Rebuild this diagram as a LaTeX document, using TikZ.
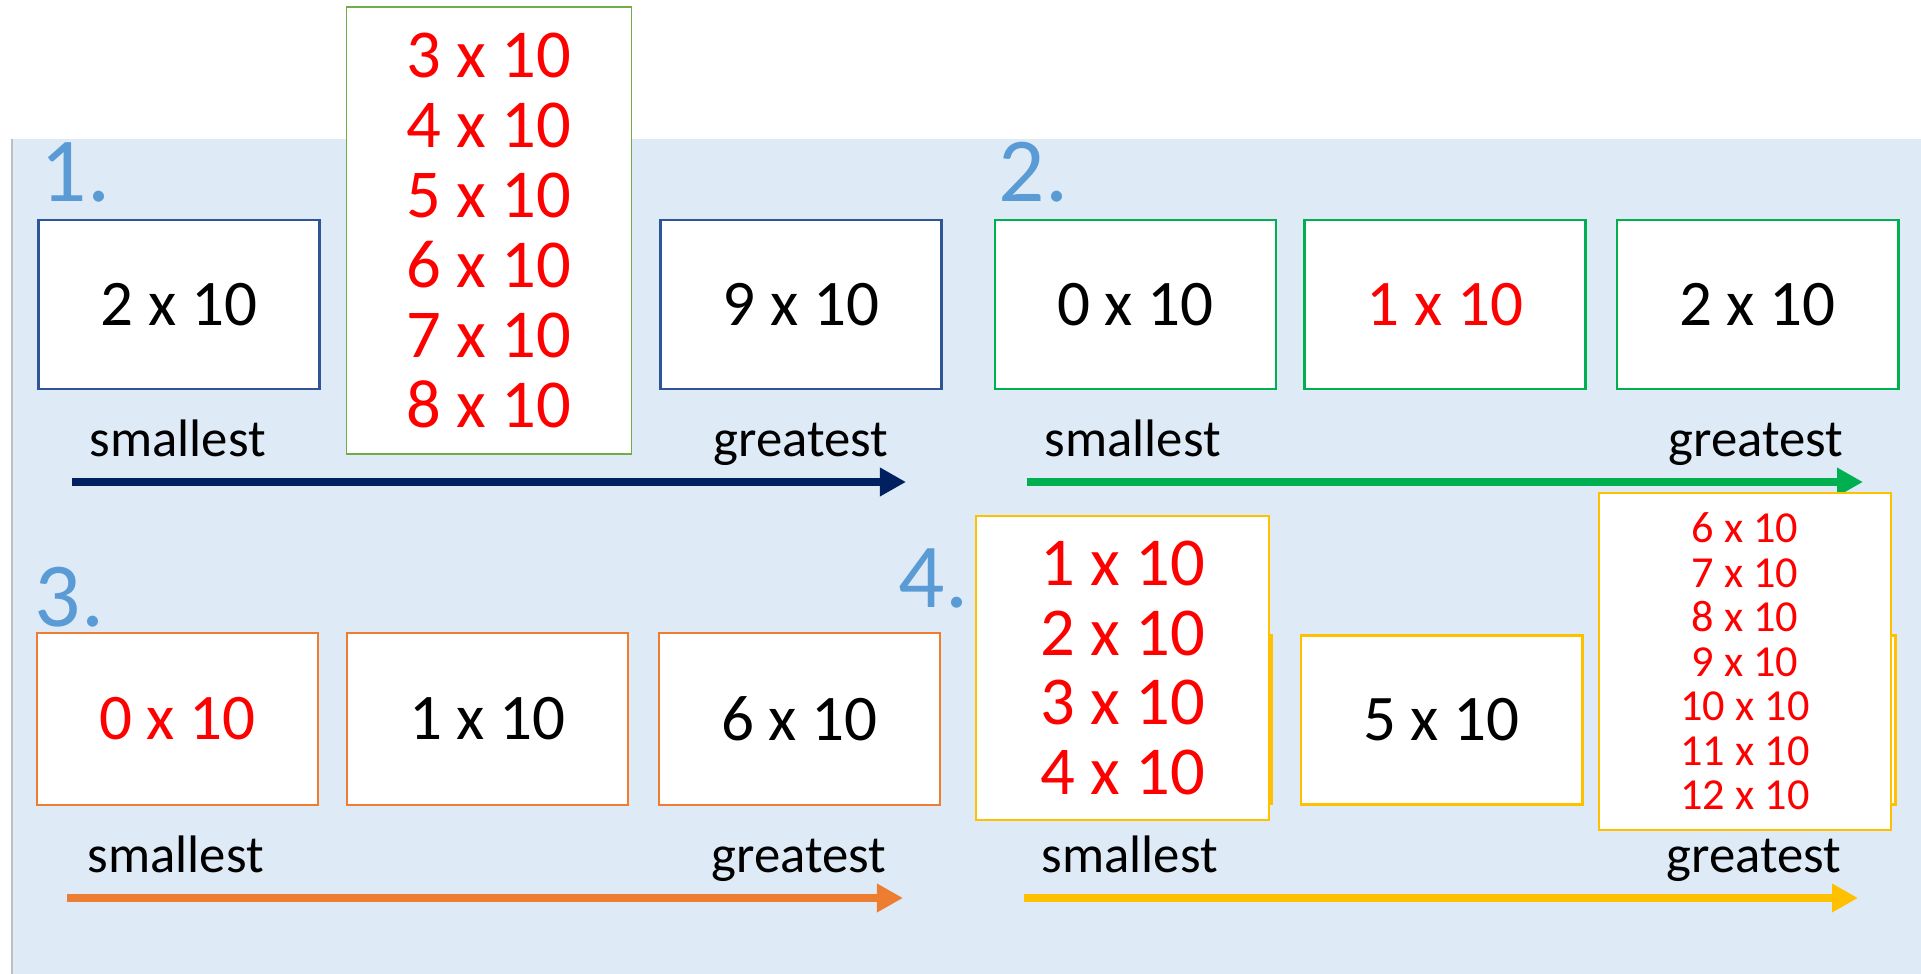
\documentclass[tikz,border=0pt]{standalone}
\usepackage{fontspec}
\setmainfont{Carlito}
\usepackage{tikz}
\usetikzlibrary{arrows.meta}
\tikzset{
every node/.style={inner sep=0pt},
card/.style= {rectangle, draw, line width=0.028cm, fill=white, minimum width=2.81cm, minimum height=1.69cm, font=\fontsize{18.5}{22}\selectfont},
stack/.style= {rectangle, draw, line width=0.015cm, fill=white, align=center, text=Mark},
tag/.style= {anchor=base west, text=Tag, font=\fontsize{26}{30}\selectfont},
word/.style= {anchor=base west, font=\fontsize{15}{18}\selectfont},
arrowline/.style= {line width=0.08cm, -{Triangle[length=0.26cm,width=0.27cm]}}
}
\definecolor{Panel}{HTML}{DEEBF7}
\definecolor{Edge}{HTML}{BFBFBF}
\definecolor{Tag}{HTML}{5B9BD5}
\definecolor{Mark}{HTML}{FF0000}
\definecolor{Navy}{HTML}{002060}
\definecolor{Navy2}{HTML}{2F5597}
\definecolor{Leaf}{HTML}{70AD47}
\definecolor{Green}{HTML}{00B050}
\definecolor{Orange}{HTML}{ED7D31}
\definecolor{Gold}{HTML}{FFC000}

\begin{document}
\begin{tikzpicture}[x=0.01cm,y=-0.01cm]
    \useasboundingbox (0,0) rectangle (1921,974);
    \fill[Panel] (12,139) rectangle (1921,974);
    \draw[Edge,line width=0.02cm] (12,139) -- (12,974);

    % 1.
    \node[tag] (t1) at (40,202) {1.};
    \node[card,draw=Navy2] (c11) at (179,304.5) {2 x 10};
    \node[card,draw=Navy2] (c13) at (801,304.5) {9 x 10};
    \node[stack,draw=Leaf,minimum width=2.85cm,minimum height=4.47cm,font=\fontsize{19.5}{19.9}\selectfont] (l1) at (489,230.5) {3 x 10\\4 x 10\\5 x 10\\6 x 10\\7 x 10\\8 x 10};
    \node[word] (s1) at (89,457) {smallest};
    \node[word] (g1) at (713,457) {greatest};
    \coordinate (a1) at (72,482);
    \coordinate (b1) at (906,482);
    \draw[arrowline,Navy] (a1) -- (b1);

    % 2.
    \node[tag] (t2) at (998,202) {2.};
    \node[card,draw=Green] (c21) at (1135.5,304.5) {0 x 10};
    \node[card,draw=Green,text=Mark] (c22) at (1445,304.5) {1 x 10};
    \node[card,draw=Green] (c23) at (1757.5,304.5) {2 x 10};
    \node[word] (s2) at (1044,457) {smallest};
    \node[word] (g2) at (1668,457) {greatest};
    \coordinate (a2) at (1027,482);
    \coordinate (b2) at (1863,482);
    \draw[arrowline,Green] (a2) -- (b2);

    % 3.
    \node[tag] (t3) at (34,627) {3.};
    \node[card,draw=Orange,minimum height=1.72cm,text=Mark] (c31) at (177.5,719) {0 x 10};
    \node[card,draw=Orange,minimum height=1.72cm] (c32) at (487.5,719) {1 x 10};
    \node[card,draw=Orange,minimum height=1.72cm] (c33) at (799.5,719) {6 x 10};
    \node[word] (s3) at (87,873) {smallest};
    \node[word] (g3) at (711,873) {greatest};
    \coordinate (a3) at (67,898);
    \coordinate (b3) at (903,898);
    \draw[arrowline,Orange] (a3) -- (b3);

    % 4.
    \node[tag] (t4) at (898,608) {4.};
    \node[card,draw=Gold] (c41) at (1131,719.5) {};
    \node[card,draw=Gold] (c42) at (1441.5,720) {5 x 10};
    \node[card,draw=Gold] (c43) at (1755,720) {};
    \node[stack,draw=Gold,minimum width=2.93cm,minimum height=3.04cm,font=\fontsize{19.5}{19.9}\selectfont] (l4) at (1122.5,668) {1 x 10\\2 x 10\\3 x 10\\4 x 10};
    \node[stack,draw=Gold,minimum width=2.92cm,minimum height=3.37cm,font=\fontsize{12.6}{12.66}\selectfont] (m4) at (1745,661.5) {6 x 10\\7 x 10\\8 x 10\\9 x 10\\10 x 10\\11 x 10\\12 x 10};
    \node[word] (s4) at (1041,873) {smallest};
    \node[word] (g4) at (1666,873) {greatest};
    \coordinate (a4) at (1024,898);
    \coordinate (b4) at (1858,898);
    \draw[arrowline,Gold] (a4) -- (b4);
\end{tikzpicture}
\end{document}
